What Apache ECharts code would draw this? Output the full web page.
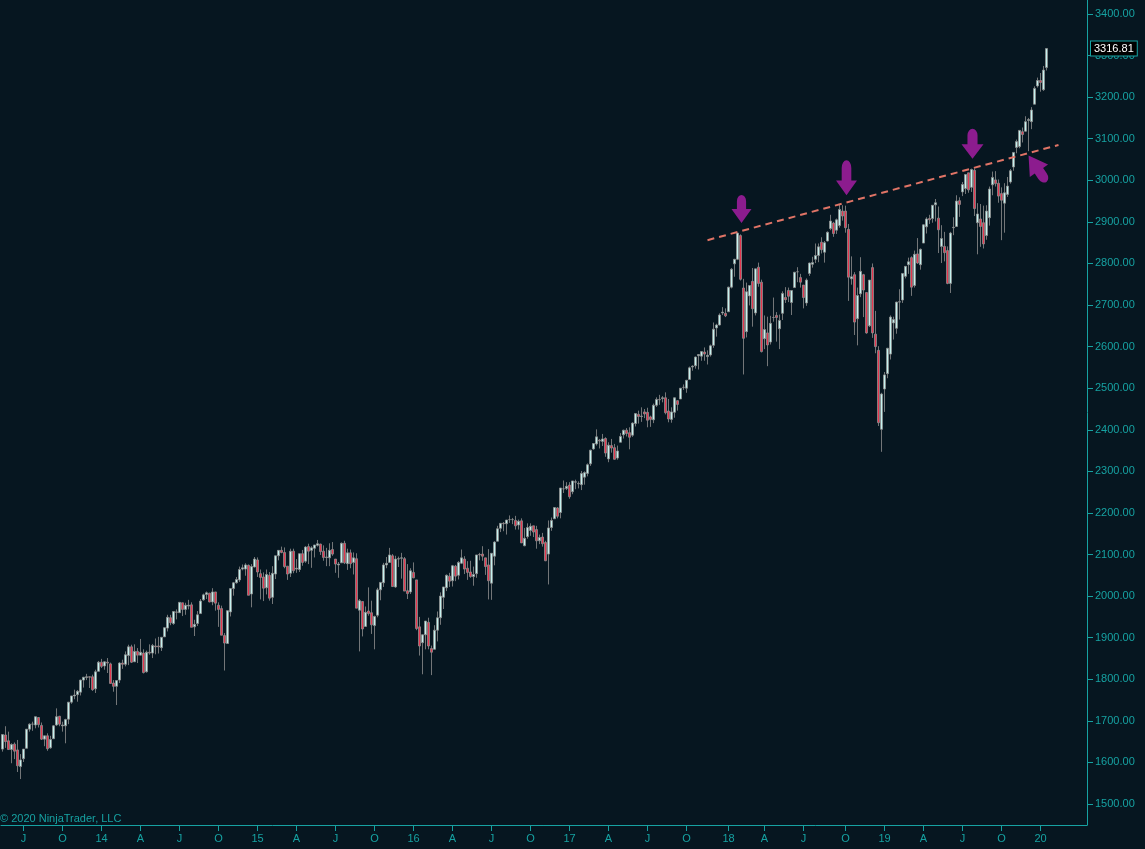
<!DOCTYPE html>
<html>
<head>
<meta charset="utf-8">
<script src="https://cdn.jsdelivr.net/npm/echarts@6/dist/echarts.min.js"></script>
<style>
html,body{margin:0;padding:0;background:#061620;}
#chart{width:1145px;height:849px;}
</style>
</head>
<body>
<div id="chart"></div>
<script>
// Weekly S&P 500 candles, rows are [open, high, low, close]
const firstWeek = '2013-05-13';
const totalSlots = 362; // weekly slots on the axis (data + empty space on the right)
const ohlc2013 = [
[1632,1667,1626,1667],[1666,1687,1635,1650],[1652,1674,1630,1631],[1631,1646,1598,1643],
[1644,1648,1608,1627],[1630,1654,1577,1592],[1590,1620,1560,1606],[1609,1632,1601,1632],
[1634,1680,1634,1680],[1680,1694,1674,1692],[1692,1698,1676,1692],[1690,1710,1682,1710],
[1708,1709,1684,1691],[1689,1696,1654,1656],[1656,1664,1639,1664],[1664,1670,1628,1633],
[1635,1664,1633,1655],[1657,1690,1657,1688],[1690,1730,1688,1710],[1711,1712,1687,1692],
[1688,1698,1674,1690],[1688,1705,1646,1703],[1704,1745,1692,1745],[1745,1760,1741,1760],
[1760,1775,1752,1762],[1763,1774,1746,1771],[1769,1799,1761,1798],[1798,1805,1780,1805],
[1804,1813,1798,1806],[1806,1807,1779,1805],[1806,1811,1772,1775],[1777,1823,1767,1818],
[1819,1844,1819,1841]
];
const ohlc2014 = [
[1841,1849,1827,1831],[1832,1843,1823,1842],[1841,1851,1815,1839],[1837,1840,1790,1790],
[1791,1798,1770,1783],[1783,1798,1738,1797],[1798,1841,1791,1839],[1839,1847,1825,1836],
[1836,1867,1831,1859],[1857,1883,1834,1878],[1878,1883,1839,1841],[1842,1884,1842,1867],
[1867,1875,1839,1858],[1858,1897,1858,1865],[1863,1872,1814,1816],[1818,1869,1816,1865],
[1865,1884,1859,1863],[1863,1885,1851,1881],[1880,1898,1860,1878],[1880,1902,1862,1878],
[1876,1901,1868,1901],[1902,1924,1902,1924],[1923,1955,1915,1949],[1948,1955,1930,1936],
[1934,1964,1931,1963],[1962,1968,1944,1961],[1960,1985,1960,1985],[1984,1984,1952,1968],
[1968,1984,1955,1978],[1976,1991,1968,1978],[1979,1985,1925,1925],[1926,1943,1904,1932],
[1934,1964,1928,1955],[1958,1993,1958,1988],[1991,2006,1989,2003],[2004,2011,1993,2008],
[2007,2008,1985,1986],[1986,2019,1978,2010],[2010,2010,1965,1983],[1978,1985,1926,1968],
[1970,1977,1906,1906],[1905,1911,1821,1887],[1886,1965,1886,1965],[1962,2018,1951,2018],
[2018,2034,2001,2032],[2032,2046,2030,2040],[2039,2071,2034,2064],[2065,2076,2062,2068],
[2065,2079,2049,2075],[2074,2076,2002,2002],[2005,2077,1973,2071],[2070,2094,2069,2089]
];
const ohlc2015 = [
[2087,2093,2046,2058],[2054,2064,1992,2045],[2046,2057,1988,2019],[2020,2064,2004,2052],
[2050,2058,1989,1995],[1997,2072,1981,2055],[2053,2097,2041,2097],[2097,2110,2086,2110],
[2110,2119,2103,2105],[2105,2117,2067,2071],[2072,2072,2039,2053],[2055,2114,2046,2108],
[2108,2114,2055,2061],[2065,2089,2056,2067],[2064,2103,2058,2102],[2102,2111,2073,2081],
[2084,2120,2080,2118],[2119,2126,2077,2108],[2110,2120,2068,2116],[2115,2123,2093,2123],
[2122,2135,2119,2126],[2125,2126,2099,2107],[2108,2122,2085,2093],[2093,2116,2072,2094],
[2092,2127,2072,2110],[2112,2130,2097,2101],[2089,2089,2056,2077],[2075,2082,2044,2077],
[2080,2129,2080,2127],[2127,2133,2077,2080],[2078,2114,2063,2104],[2104,2112,2067,2078],
[2081,2105,2052,2092],[2090,2103,1971,1971],[1966,1993,1867,1989],[1987,1987,1903,1921],
[1927,1975,1927,1961],[1964,2021,1953,1958],[1960,1989,1909,1931],[1929,1953,1872,1951],
[1954,2020,1949,2015],[2015,2034,1990,2033],[2032,2080,2022,2075],[2075,2094,2067,2079],
[2081,2116,2081,2099],[2097,2101,2022,2023],[2022,2097,2020,2089],[2089,2095,2070,2090],
[2091,2104,2042,2092],[2090,2094,2012,2012],[2013,2077,1993,2006],[2010,2067,2005,2061],
[2057,2081,2043,2044]
];
const ohlc2016 = [
[2039,2039,1918,1922],[1926,1950,1857,1880],[1888,1908,1812,1907],[1907,1940,1872,1940],
[1937,1948,1872,1880],[1874,1881,1810,1865],[1872,1930,1872,1918],[1918,1963,1891,1948],
[1948,2009,1931,2000],[1997,2022,1969,2022],[2020,2052,2012,2050],[2048,2056,2022,2036],
[2037,2075,2023,2073],[2072,2075,2036,2048],[2050,2084,2040,2081],[2079,2112,2077,2092],
[2089,2096,2053,2065],[2067,2084,2039,2057],[2058,2085,2044,2047],[2047,2071,2025,2052],
[2054,2099,2044,2099],[2100,2104,2086,2099],[2101,2120,2085,2096],[2092,2092,2051,2071],
[2075,2113,1992,2037],[2031,2103,1991,2103],[2096,2132,2074,2130],[2132,2169,2132,2162],
[2163,2175,2154,2175],[2175,2178,2156,2174],[2174,2183,2148,2183],[2184,2194,2176,2184],
[2184,2188,2173,2184],[2182,2193,2160,2169],[2171,2184,2160,2180],[2181,2187,2128,2128],
[2121,2164,2120,2139],[2143,2175,2138,2165],[2158,2175,2145,2168],[2169,2169,2142,2154],
[2160,2169,2114,2133],[2133,2148,2125,2141],[2142,2152,2119,2126],[2129,2133,2084,2085],
[2101,2182,2028,2164],[2165,2189,2157,2182],[2186,2214,2186,2213],[2212,2214,2187,2192],
[2201,2260,2187,2260],[2258,2278,2248,2258],[2259,2274,2255,2264],[2267,2274,2234,2239]
];
const ohlc2017 = [
[2251,2277,2245,2277],[2274,2280,2257,2275],[2270,2276,2259,2271],[2268,2301,2255,2295],
[2286,2300,2268,2297],[2295,2319,2288,2316],[2318,2352,2313,2351],[2354,2368,2352,2367],
[2366,2401,2362,2383],[2375,2378,2355,2373],[2372,2390,2361,2378],[2379,2382,2335,2344],
[2330,2370,2322,2363],[2362,2378,2345,2356],[2357,2366,2328,2329],[2332,2362,2328,2349],
[2370,2392,2370,2384],[2388,2400,2379,2399],[2399,2404,2384,2391],[2393,2406,2353,2382],
[2387,2418,2383,2416],[2415,2440,2408,2439],[2437,2446,2415,2432],[2432,2454,2419,2433],
[2443,2450,2428,2438],[2442,2453,2406,2423],[2431,2434,2407,2425],[2424,2463,2416,2459],
[2459,2478,2455,2473],[2473,2484,2460,2472],[2475,2481,2466,2477],[2477,2490,2437,2441],
[2445,2474,2418,2426],[2425,2454,2417,2443],[2442,2476,2429,2477],[2470,2471,2446,2461],
[2474,2500,2474,2500],[2502,2509,2496,2502],[2500,2520,2489,2519],[2521,2552,2521,2549],
[2551,2555,2542,2553],[2554,2576,2547,2575],[2578,2582,2545,2581],[2577,2589,2566,2588],
[2587,2598,2566,2582],[2576,2591,2557,2579],[2580,2605,2576,2602],[2603,2658,2597,2642],
[2645,2655,2624,2652],[2652,2680,2651,2676],[2681,2695,2676,2683],[2680,2692,2671,2674]
];
const ohlc2018 = [
[2684,2744,2683,2743],[2743,2789,2740,2786],[2799,2811,2768,2810],[2810,2873,2808,2873],
[2867,2870,2759,2762],[2741,2763,2533,2620],[2636,2754,2622,2732],[2722,2748,2699,2747],
[2757,2789,2648,2691],[2681,2787,2675,2787],[2791,2802,2744,2752],[2755,2761,2586,2588],
[2619,2675,2594,2641],[2633,2672,2553,2604],[2611,2674,2605,2656],[2670,2718,2660,2670],
[2675,2683,2612,2670],[2643,2677,2594,2663],[2680,2733,2664,2728],[2718,2743,2705,2713],
[2735,2742,2707,2721],[2706,2736,2676,2735],[2742,2779,2741,2779],[2780,2791,2755,2780],
[2766,2775,2742,2755],[2748,2748,2692,2718],[2705,2764,2698,2760],[2776,2802,2770,2801],
[2798,2816,2790,2802],[2810,2848,2801,2819],[2819,2848,2803,2840],[2851,2863,2824,2833],
[2827,2854,2802,2850],[2854,2877,2853,2875],[2884,2917,2880,2902],[2897,2900,2864,2872],
[2880,2908,2871,2905],[2891,2941,2886,2930],[2926,2940,2903,2914],[2926,2939,2874,2886],
[2882,2895,2710,2767],[2763,2817,2749,2768],[2773,2779,2628,2659],[2667,2742,2603,2723],
[2727,2815,2719,2781],[2773,2775,2671,2736],[2730,2730,2631,2633],[2650,2760,2647,2760],
[2790,2800,2621,2633],[2630,2686,2584,2600],[2591,2601,2409,2417],[2401,2489,2347,2486]
];
const ohlc2019 = [
[2498,2539,2443,2532],[2535,2597,2524,2596],[2582,2675,2569,2671],[2657,2672,2617,2665],
[2644,2708,2631,2707],[2707,2738,2665,2708],[2712,2776,2705,2776],[2769,2794,2764,2793],
[2797,2814,2775,2804],[2814,2817,2722,2743],[2747,2831,2742,2822],[2823,2861,2799,2801],
[2797,2836,2785,2834],[2849,2894,2849,2893],[2888,2911,2872,2907],[2908,2917,2895,2905],
[2908,2940,2898,2940],[2941,2955,2901,2946],[2909,2937,2825,2881],[2841,2892,2801,2860],
[2841,2876,2805,2826],[2831,2841,2750,2752],[2752,2876,2729,2873],[2886,2911,2868,2887],
[2889,2964,2888,2950],[2951,2959,2912,2942],[2972,2996,2962,2990],[2980,3014,2967,3014],
[3018,3018,2970,2977],[2983,3028,2972,3026],[3024,3028,2914,2932],[2898,2945,2822,2919],
[2907,2943,2840,2889],[2898,2939,2836,2847],[2867,2940,2857,2926],[2910,2985,2891,2979],
[2989,3021,2964,3007],[3001,3022,2985,2992],[2993,3002,2946,2962],[2968,2983,2856,2952],
[2945,2993,2874,2970],[2966,3008,2960,2986],[2996,3027,2992,3023],[3032,3067,3023,3067],
[3079,3098,3065,3093],[3081,3121,3077,3120],[3117,3127,3091,3110],[3118,3154,3117,3141],
[3144,3150,3070,3146],[3141,3176,3123,3169],[3183,3226,3183,3221],[3227,3247,3223,3240]
];
const ohlc2020 = [
[3240,3258,3213,3235],[3218,3275,3215,3265],[3271,3317,3264,3317]
];
const lastPrice = 3316.81;
const yTicks = [1500,1600,1700,1800,1900,2000,2100,2200,2300,2400,2500,2600,2700,2800,2900,3000,3100,3200,3300,3400];
const quarterLetters = {3:'A', 6:'J', 9:'O'};
// trend line anchors: [week index, price]
const trendStart = [235, 2856];
const trendEnd = [352, 3085];
// arrow annotations: [week index, price at centre]
const downArrows = [[246, 2931], [281, 3006], [323, 3088]];
const diagArrow = [345, 3028];
const copyright = '\u00A9 2020 NinjaTrader, LLC';

// ---- build
const rows = [].concat(ohlc2013, ohlc2014, ohlc2015, ohlc2016, ohlc2017, ohlc2018, ohlc2019, ohlc2020);
const nData = rows.length;
const DAY = 86400000;
const t0 = Date.parse(firstWeek + 'T00:00:00Z');
const cats = [];
const labelText = {};
for (let i = 0; i < totalSlots; i++) {
  const d = new Date(t0 + i * 7 * DAY);
  cats.push(d.toISOString().slice(0, 10));
  const sun = new Date(t0 + (i * 7 + 6) * DAY);
  const m = sun.getUTCMonth();
  if (i < nData && sun.getUTCDate() <= 7 && m % 3 === 0) {
    labelText[i] = m === 0 ? String(sun.getUTCFullYear() % 100).padStart(2, '0') : quarterLetters[m];
  }
}
const candleData = rows.map(r => [r[0], r[3], r[2], r[1]]);

const TEAL = '#16a2a2';
const FONT = 'Liberation Sans';
function arrowPath(head) {
  // pointing-down arrow; head = y where head starts (of 100)
  return 'path://M28,22 A22,22 0 0 1 72,22 L72,' + head + ' L98,' + head + ' L50,100 L2,' + head + ' L28,' + head + ' Z';
}
const arrowColor = '#8c1c8e';

const chart = echarts.init(document.getElementById('chart'), null, {renderer: 'canvas'});
chart.setOption({
  backgroundColor: '#061620',
  animation: false,
  title: {
    text: copyright, left: 0, top: 813, padding: 0,
    textStyle: {color: TEAL, fontSize: 11, fontWeight: 'normal', fontFamily: FONT}
  },
  grid: {left: 1, right: 58, top: 0, bottom: 24, containLabel: false},
  xAxis: {
    type: 'category',
    data: cats,
    boundaryGap: true,
    axisLine: {show: true, lineStyle: {color: TEAL, width: 1}},
    axisTick: {show: true, alignWithLabel: true, length: 6, lineStyle: {color: TEAL},
      interval: (i) => labelText[i] !== undefined},
    axisLabel: {show: true, color: TEAL, fontSize: 11, fontFamily: FONT, margin: 8,
      interval: (i) => labelText[i] !== undefined,
      formatter: (v, i) => labelText[i] || ''},
    splitLine: {show: false}
  },
  yAxis: {
    type: 'value',
    position: 'right',
    min: 1449.5,
    max: 3433.6,
    scale: true,
    axisLine: {show: true, lineStyle: {color: TEAL, width: 1}},
    axisTick: {show: true, length: 6, lineStyle: {color: TEAL}, customValues: yTicks},
    axisLabel: {show: true, color: TEAL, fontSize: 11, fontFamily: FONT, margin: 8,
      customValues: yTicks, formatter: (v) => Number(v).toFixed(2)},
    splitLine: {show: false}
  },
  series: [{
    type: 'candlestick',
    data: candleData,
    barWidth: 3,
    itemStyle: {
      color: '#c4f2ef', color0: '#e6364f',
      borderColor: '#8f8f8f', borderColor0: '#8f8f8f', borderWidth: 0.8
    },
    markLine: {
      silent: true,
      symbol: ['none', 'none'],
      data: [
        [
          {coord: [cats[trendStart[0]], trendStart[1]], lineStyle: {color: '#e07466', width: 2, type: [7, 5]}, label: {show: false}},
          {coord: [cats[trendEnd[0]], trendEnd[1]]}
        ],
        {
          yAxis: lastPrice,
          lineStyle: {color: 'rgba(0,0,0,0)', width: 1, type: 'solid'},
          label: {
            show: true, position: 'end', distance: 4,
            formatter: () => lastPrice.toFixed(2),
            color: '#ffffff', fontSize: 11, fontFamily: FONT,
            backgroundColor: '#000000', borderColor: TEAL, borderWidth: 1,
            padding: [2, 3, 1, 3]
          }
        }
      ]
    },
    markPoint: {
      silent: true,
      label: {show: false},
      data: [
        {coord: [cats[downArrows[0][0]], downArrows[0][1]], symbol: arrowPath(50), symbolSize: [20, 28], symbolOffset: [1, 0], itemStyle: {color: arrowColor}},
        {coord: [cats[downArrows[1][0]], downArrows[1][1]], symbol: arrowPath(58), symbolSize: [21, 35], symbolOffset: [1, 0], itemStyle: {color: arrowColor}},
        {coord: [cats[downArrows[2][0]], downArrows[2][1]], symbol: arrowPath(52), symbolSize: [22, 30], symbolOffset: [1, 0], itemStyle: {color: arrowColor}},
        {coord: [cats[diagArrow[0]], diagArrow[1]], symbol: arrowPath(42), symbolSize: [22, 32], symbolRotate: 214, itemStyle: {color: arrowColor}}
      ]
    }
  }]
});
</script>
</body>
</html>
